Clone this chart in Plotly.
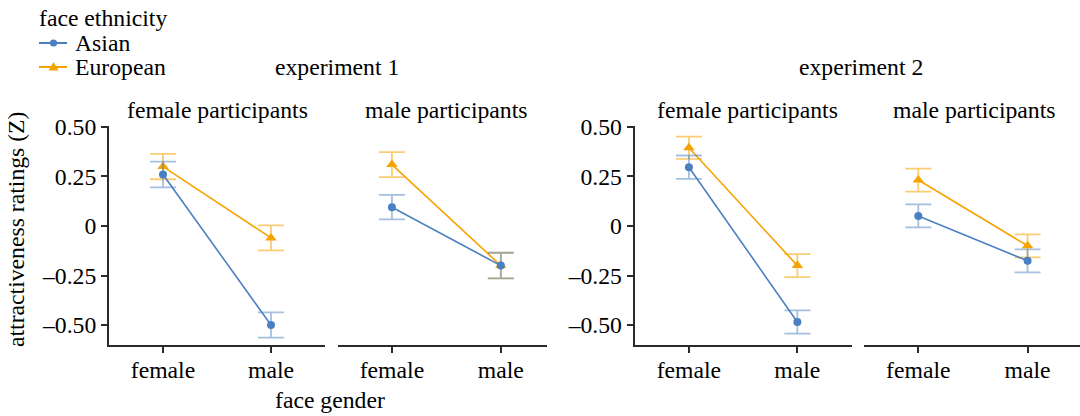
import plotly.graph_objects as go

categories = ["female", "male"]

# experiment 1
e1_female_asian = [0.26, -0.50]
e1_female_asian_err = [0.065, 0.064]
e1_female_euro = [0.30, -0.06]
e1_female_euro_err = [0.064, 0.063]
e1_male_asian = [0.095, -0.20]
e1_male_asian_err = [0.062, 0.065]
e1_male_euro = [0.31, -0.20]
e1_male_euro_err = [0.063, 0.065]

# experiment 2
e2_female_asian = [0.297, -0.485]
e2_female_asian_err = [0.059, 0.059]
e2_female_euro = [0.395, -0.20]
e2_female_euro_err = [0.056, 0.058]
e2_male_asian = [0.051, -0.176]
e2_male_asian_err = [0.058, 0.058]
e2_male_euro = [0.232, -0.10]
e2_male_euro_err = [0.058, 0.058]

series_names = ["Asian", "European"]
legend_title = "face ethnicity"
ytick_vals = [0.5, 0.25, 0, -0.25, -0.5]
ytick_text = ["0.50", "0.25", "0", "–0.25", "–0.50"]

BLUE = "#4a7fc1"
BLUE_ERR = "rgba(74,127,193,0.5)"
ORANGE = "#f5a300"
ORANGE_ERR = "rgba(245,163,0,0.55)"
FONT = "Liberation Serif"
AXC = "#2a2a2a"
FS = 23.7

W, H = 1080, 416

def px(x):
    return x / W

def py(y):
    return 1 - y / H

panels = [
    (e1_female_asian, e1_female_asian_err, e1_female_euro, e1_female_euro_err, (109, 325), [-0.5, 1.5], True),
    (e1_male_asian, e1_male_asian_err, e1_male_euro, e1_male_euro_err, (337.5, 547), [-0.5, 1.424], False),
    (e2_female_asian, e2_female_asian_err, e2_female_euro, e2_female_euro_err, (634.7, 851.6), [-0.5, 1.5], True),
    (e2_male_asian, e2_male_asian_err, e2_male_euro, e2_male_euro_err, (863.7, 1080), [-0.5, 1.48], False),
]

fig = go.Figure()
ydom = [py(345), py(126)]
yrange = [-0.601, 0.505]

for i, (a, ae, e, ee, dom, xr, showy) in enumerate(panels):
    n = "" if i == 0 else str(i + 1)
    xa = "x" + n
    ya = "y" + n
    fig.add_trace(go.Scatter(
        x=categories, y=e, xaxis=xa, yaxis=ya, name=series_names[1],
        mode="lines+markers", showlegend=False,
        line=dict(color=ORANGE, width=1.6),
        marker=dict(symbol="triangle-up", size=10, color=ORANGE),
        error_y=dict(type="data", array=ee, visible=True, color=ORANGE_ERR, thickness=1.8, width=13),
    ))
    fig.add_trace(go.Scatter(
        x=categories, y=a, xaxis=xa, yaxis=ya, name=series_names[0],
        mode="lines+markers", showlegend=False,
        line=dict(color=BLUE, width=1.6),
        marker=dict(symbol="circle", size=8, color=BLUE),
        error_y=dict(type="data", array=ae, visible=True, color=BLUE_ERR, thickness=1.8, width=13),
    ))
    fig.layout["xaxis" + n] = dict(
        domain=[px(dom[0]), px(dom[1])], anchor=ya, type="category",
        range=xr, showline=True, linecolor=AXC, linewidth=2,
        ticks="outside", ticklen=6, tickcolor=AXC, tickwidth=1.5,
        ticklabelstandoff=-3,
        showgrid=False, zeroline=False, automargin=False,
        tickfont=dict(family=FONT, size=FS, color="black"),
        fixedrange=True,
    )
    fig.layout["yaxis" + n] = dict(
        domain=ydom, anchor=xa, range=yrange,
        showline=showy, linecolor=AXC, linewidth=2,
        ticks="outside" if showy else "", ticklen=6, tickcolor=AXC, tickwidth=1.5,
        showticklabels=showy, tickvals=ytick_vals, ticktext=ytick_text,
        showgrid=False, zeroline=False, automargin=False,
        tickfont=dict(family=FONT, size=FS, color="black"),
        fixedrange=True,
    )

def ann(text, x, y, size=FS, xanchor="center", **kw):
    d = dict(text=text, x=px(x), y=py(y), xref="paper", yref="paper", showarrow=False,
             xanchor=xanchor, yanchor="middle", font=dict(family=FONT, size=size, color="black"))
    d.update(kw)
    return d

annotations = [
    ann("experiment 1", 337, 67),
    ann("experiment 2", 861, 67),
    ann("female participants", 217, 110),
    ann("male participants", 446, 110),
    ann("female participants", 747, 110),
    ann("male participants", 974, 110),
    ann("face gender", 330, 400),
    ann("attractiveness ratings (Z)", 16, 230, textangle=-90),
    # legend texts
    ann(legend_title, 37, 18, xanchor="left"),
    ann(series_names[0], 73, 43, xanchor="left"),
    ann(series_names[1], 73, 67, xanchor="left"),
]

# legend keys (decoration)
shapes = []
for yy, col, sym in [(43, BLUE, "circle"), (67, ORANGE, "triangle")]:
    shapes.append(dict(type="line", xref="paper", yref="paper",
                       x0=px(39), x1=px(67), y0=py(yy), y1=py(yy),
                       line=dict(color=col, width=2)))
    cx = 53.5
    if sym == "circle":
        r = 3.6
        shapes.append(dict(type="circle", xref="paper", yref="paper",
                           x0=px(cx - r), x1=px(cx + r), y0=py(yy + r), y1=py(yy - r),
                           fillcolor=col, line=dict(color=col, width=0)))
    else:
        path = "M {} {} L {} {} L {} {} Z".format(
            px(cx - 5), py(yy + 3.5), px(cx + 5), py(yy + 3.5), px(cx), py(yy - 5))
        shapes.append(dict(type="path", xref="paper", yref="paper", path=path,
                           fillcolor=col, line=dict(color=col, width=0)))

fig.update_layout(
    annotations=annotations, shapes=shapes,
    width=W, height=H, showlegend=False,
    margin=dict(l=0, r=0, t=0, b=0, autoexpand=False),
    paper_bgcolor="white", plot_bgcolor="white",
    font=dict(family=FONT, size=FS, color="black"),
)

fig.write_html("out.html", config={"displayModeBar": False},
               post_script="document.body.style.margin='0';document.body.style.overflow='hidden';")
